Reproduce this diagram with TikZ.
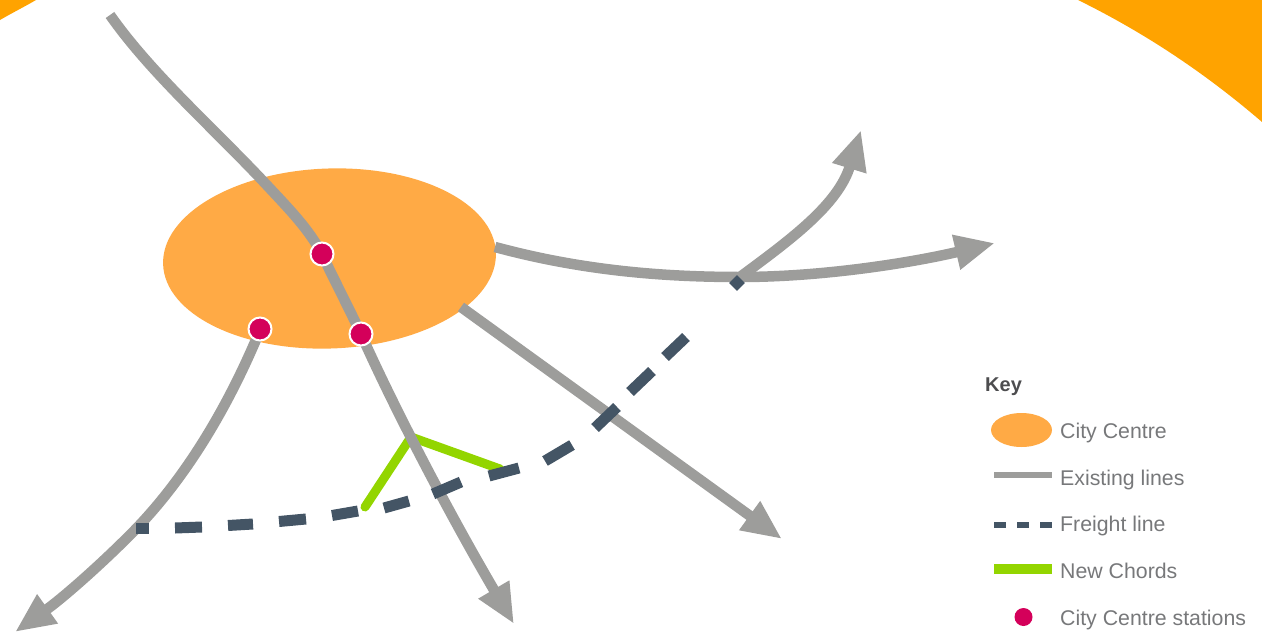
\documentclass[tikz,border=0pt]{standalone}
\usepackage{fontspec}
\setmainfont{Liberation Sans}
\usetikzlibrary{arrows.meta,shapes.geometric}
\definecolor{cornerorange}{HTML}{FFA300}
\definecolor{cityorange}{HTML}{FFAA45}
\definecolor{linegrey}{HTML}{9D9D9B}
\definecolor{freightblue}{HTML}{445565}
\definecolor{chordgreen}{HTML}{93D500}
\definecolor{stationred}{HTML}{D4005A}
\definecolor{keytext}{HTML}{77787A}
\definecolor{keyhead}{HTML}{4D4D4F}
\tikzset{
  existing/.style={draw=linegrey,line width=10.5pt,-{Triangle[length=40pt,width=33pt,fill=linegrey]}},
  freight/.style={draw=freightblue,line width=11pt},
  chord/.style={draw=chordgreen,line width=9pt,line cap=round,line join=round},
  station/.style={circle,fill=stationred,draw=white,line width=2pt,minimum size=23pt,inner sep=0pt},
  keydot/.style={circle,fill=stationred,minimum size=18pt,inner sep=0pt},
  cityarea/.style={ellipse,fill=cityorange,inner sep=0pt},
  keylabel/.style={anchor=base west,inner sep=0pt,text=keytext,font=\fontsize{21.3}{24}\selectfont},
  keytitle/.style={anchor=base west,inner sep=0pt,text=keyhead,font=\fontsize{20}{24}\selectfont\bfseries}
}
\begin{document}
\begin{tikzpicture}[x=1pt,y=-1pt]
\useasboundingbox (0,0) rectangle (1262,632);
\begin{scope}
\clip (0,0) rectangle (1262,632);
% corners
\fill[cornerorange] (0,0) -- (36,0) .. controls (24,7) and (12,13) .. (0,20) -- cycle;
\fill[cornerorange] (1078,0) .. controls (1145,33) and (1205,73) .. (1262,122) -- (1262,0) -- cycle;
% city centre
\node[cityarea,minimum width=333pt,minimum height=180pt,rotate=2] (city) at (329.5,258.5) {};
% coordinates
\coordinate (stA) at (322,254);
\coordinate (stB) at (260,329);
\coordinate (stC) at (361,334);
\coordinate (junction) at (740,277);
\coordinate (chordTop) at (411,437);
% chords
\draw[chord] (365,507) -- (chordTop) -- (500,469);
% existing lines
\draw[existing] (110,15) .. controls (150,72) and (210,125) .. (262,180) .. controls (290,210) and (308,228) .. (stA) .. controls (335,282) and (345,300) .. (stC) .. controls (395,410) and (450,515) .. (514,624);
\draw[existing] (495,247) .. controls (580,270) and (660,277) .. (junction) .. controls (825,277) and (915,262) .. (995,243);
\draw[existing] (junction) .. controls (790,240) and (838,205) .. (861,130);
\draw[existing] (461,307) -- (782,539);
\draw[existing] (258,335) .. controls (220,425) and (175,490) .. (130,535) .. controls (95,570) and (60,600) .. (15,632);
% freight dashes
\foreach \xa/\ya/\xb/\yb in {136/528/149/528,175/528/202/527,228/525.5/253/524,279/521.5/306/519,332/515.5/358/511,384/508/409/501,433/494/461/482,489/476/519/468,545/461/572/445,595/428/617/407,630/392/652/371,665/357/686/337}
  \draw[freight] (\xa,\ya) -- (\xb,\yb);
\node[diamond,fill=freightblue,minimum size=16pt,inner sep=0pt] (lastdash) at (737,283) {};
% stations
\node[station] (s1) at (stA) {};
\node[station] (s2) at (stB) {};
\node[station] (s3) at (stC) {};
% key
\node[keytitle] (keyhead) at (985,391) {Key};
\node[cityarea,minimum width=61pt,minimum height=34pt] (kcity) at (1021.5,430) {};
\node[keylabel] (l1) at (1060,438) {City Centre};
\coordinate (ke1) at (994,475); \coordinate (ke2) at (1052,475);
\draw[draw=linegrey,line width=6.5pt] (ke1) -- (ke2);
\node[keylabel] (l2) at (1060,485) {Existing lines};
\coordinate (kf1) at (994,525); \coordinate (kf2) at (1052,525);
\draw[draw=freightblue,line width=6.5pt,dash pattern=on 12pt off 11pt] (kf1) -- (kf2);
\node[keylabel] (l3) at (1060,531) {Freight line};
\coordinate (kg1) at (994,569); \coordinate (kg2) at (1052,569);
\draw[draw=chordgreen,line width=10pt] (kg1) -- (kg2);
\node[keylabel] (l4) at (1060,578) {New Chords};
\node[keydot] (kdot) at (1023.5,617) {};
\node[keylabel] (l5) at (1060,625) {City Centre stations};
\end{scope}
\end{tikzpicture}
\end{document}
